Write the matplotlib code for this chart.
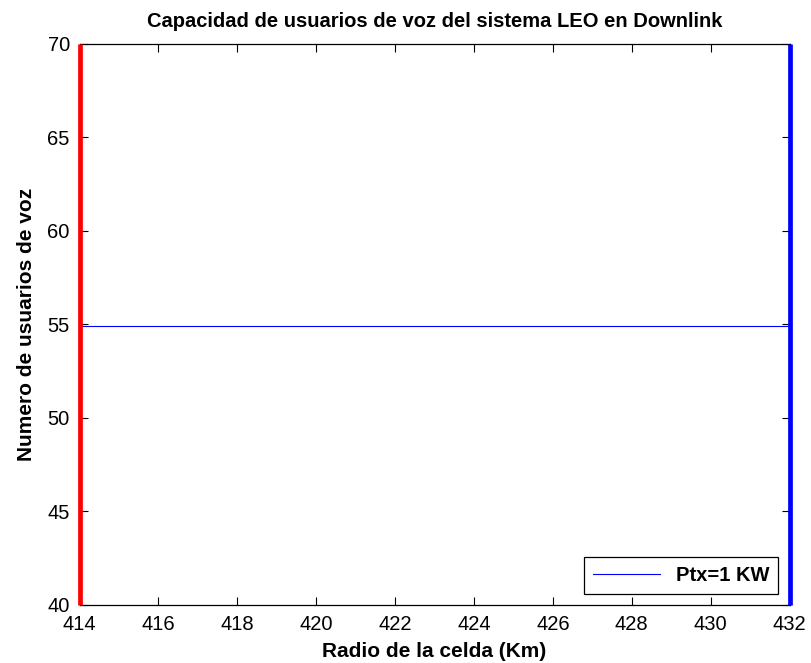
import numpy as np
import matplotlib.pyplot as plt

plt.rcParams['font.family'] = ['Liberation Sans', 'DejaVu Sans']

# datos
radio = [414, 432]
usuarios = [54.92, 54.92]
borde_izq_x = [414, 414]
borde_izq_y = [40, 70]
borde_der_x = [432, 432]
borde_der_y = [40, 70]
xticks = np.arange(414, 433, 2)
yticks = np.arange(40, 71, 5)

fig = plt.figure(figsize=(8.11, 6.63), dpi=100)
ax = fig.add_axes([79.5 / 811, 1 - 605 / 663, (789.5 - 79.5) / 811, (605 - 43.5) / 663])

ax.plot(radio, usuarios, color='blue', lw=0.8, label='Ptx=1 KW')
ax.plot(borde_izq_x, borde_izq_y, color='red', lw=3.4, solid_capstyle='butt',
        clip_on=False, zorder=5)
ax.plot(borde_der_x, borde_der_y, color='blue', lw=3.4, solid_capstyle='butt',
        clip_on=False, zorder=5)

ax.set_xlim(414, 432)
ax.set_ylim(40, 70)
ax.set_xticks(xticks)
ax.set_yticks(yticks)
ax.tick_params(direction='in', top=True, right=True, labelsize=14.5, length=6, width=0.8)
ax.tick_params(axis='x', pad=7)
ax.tick_params(axis='y', pad=7)
for s in ax.spines.values():
    s.set_linewidth(0.9)

ax.set_title('Capacidad de usuarios de voz del sistema LEO en Downlink',
             fontsize=14.5, fontweight='bold', pad=12)
ax.set_xlabel('Radio de la celda (Km)', fontsize=15, fontweight='bold', labelpad=6)
ax.set_ylabel('Numero de usuarios de voz', fontsize=15, fontweight='bold', labelpad=8)

leg = ax.legend(loc='lower right', fancybox=False, edgecolor='black', framealpha=1,
                prop={'weight': 'bold', 'size': 14.5}, handlelength=3.3,
                borderaxespad=0.55, borderpad=0.45)
leg.get_frame().set_linewidth(0.9)

fig.savefig('out.png', dpi=100)
